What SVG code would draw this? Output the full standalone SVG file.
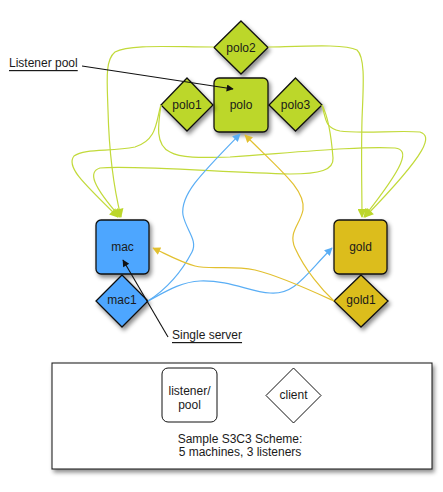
<svg xmlns="http://www.w3.org/2000/svg" width="443" height="492" viewBox="0 0 443 492">
<style>
text{font-family:"Liberation Sans",Arial,sans-serif;font-size:12px;fill:#1a1a1a;text-anchor:middle;dominant-baseline:central}
.node{stroke:#111;stroke-width:1.3}
.g{fill:#BCD72A}.b{fill:#4DA6FF}.y{fill:#DCBD1E}
.lg{fill:none;stroke:#C2DA3A;stroke-width:1.2}
.lb{fill:none;stroke:#5AAEF5;stroke-width:1.2}
.ly{fill:none;stroke:#E2C030;stroke-width:1.2}
.lk{fill:none;stroke:#111;stroke-width:1.1}
.lbl{text-anchor:start;text-decoration:underline}
</style>
<defs>
<filter id="sh" x="-30%" y="-30%" width="170%" height="170%"><feDropShadow dx="2" dy="3" stdDeviation="2" flood-color="#000" flood-opacity="0.45"/></filter>
<marker id="ag" viewBox="0 0 10 10" refX="9" refY="5" markerWidth="10" markerHeight="9" orient="auto" markerUnits="userSpaceOnUse"><path d="M0,0L10,5L0,10z" fill="#BCD72A"/></marker>
<marker id="ab" viewBox="0 0 10 10" refX="9" refY="5" markerWidth="9" markerHeight="8" orient="auto" markerUnits="userSpaceOnUse"><path d="M0,0L10,5L0,10z" fill="#5AAEF5"/></marker>
<marker id="ay" viewBox="0 0 10 10" refX="9" refY="5" markerWidth="9" markerHeight="8" orient="auto" markerUnits="userSpaceOnUse"><path d="M0,0L10,5L0,10z" fill="#E2C030"/></marker>
<marker id="ak" viewBox="0 0 10 10" refX="9" refY="5" markerWidth="9" markerHeight="7" orient="auto" markerUnits="userSpaceOnUse"><path d="M0,0L10,5L0,10z" fill="#111"/></marker>
</defs>
<g id="polo2"><path class="node g" filter="url(#sh)" d="M241,21 L268,47.5 L241,74 L214,47.5z"/><text x="241" y="47.5">polo2</text></g>
<g id="polo"><rect class="node g" filter="url(#sh)" x="214" y="78" width="54" height="54" rx="5"/><text x="241" y="105">polo</text></g>
<g id="polo1"><path class="node g" filter="url(#sh)" d="M187,78 L213,105 L187,131 L161,105z"/><text x="187" y="105">polo1</text></g>
<g id="polo3"><path class="node g" filter="url(#sh)" d="M295.5,78 L322,105 L295.5,131 L269,105z"/><text x="295.5" y="105">polo3</text></g>
<g id="mac"><rect class="node b" filter="url(#sh)" x="96" y="220" width="53" height="54" rx="5"/><text x="122.5" y="247">mac</text></g>
<g id="mac1"><path class="node b" filter="url(#sh)" d="M122,275 L148,301 L122,327 L96,301z"/><text x="122" y="300">mac1</text></g>
<g id="gold"><rect class="node y" filter="url(#sh)" x="334" y="220" width="53" height="54" rx="5"/><text x="360.5" y="247">gold</text></g>
<g id="gold1"><path class="node y" filter="url(#sh)" d="M361,275 L388,301 L361,327 L334,301z"/><text x="361" y="300">gold1</text></g>
<g id="listener-pool-label"><text class="lbl" x="9" y="63">Listener pool</text></g>
<g id="single-server-label"><text class="lbl" x="172" y="335">Single server</text></g>
<g id="legend">
<rect x="52" y="363" width="380" height="106" fill="#fff" stroke="#111" stroke-width="1" filter="url(#sh)"/>
<rect x="162" y="368" width="55" height="54" rx="6" fill="#fff" stroke="#111" stroke-width="1"/>
<text x="189.5" y="391">listener/</text><text x="189.5" y="405">pool</text>
<path d="M293.5,368 L321,395.5 L293.5,423 L266,395.5z" fill="#fff" stroke="#111" stroke-width="1"/>
<text x="293.5" y="395">client</text>
<text x="240" y="439">Sample S3C3 Scheme:</text>
<text x="240" y="452">5 machines, 3 listeners</text>
</g>
<g id="connectors">
<path class="lg" marker-end="url(#ag)" d="M214,47 C170,47 130,44 115,52 C105,60 107,80 108,110 C109,150 113,185 121,217"/>
<path class="lg" marker-end="url(#ag)" d="M161,105 C156,120 158,140 135,147 C110,152 85,148 74,156 C66,166 80,180 118,217"/>
<path class="lg" marker-end="url(#ag)" d="M322,105 C330,120 332,145 333,158 C334,170 320,174 290,174 C220,172 130,165 100,168 C88,172 92,185 120,217"/>
<path class="lg" marker-end="url(#ag)" d="M268,47 C310,46 345,44 357,50 C366,58 363,90 362,120 C361,160 362,190 362,217"/>
<path class="lg" marker-end="url(#ag)" d="M161,105 C158,125 155,145 170,152 C180,158 200,158 230,157 C300,152 360,146 395,148 C410,150 405,165 364,217"/>
<path class="lg" marker-end="url(#ag)" d="M322,105 C326,120 325,128 340,131 C360,134 400,130 420,132 C432,136 430,150 365,217"/>
<path class="lb" marker-end="url(#ab)" d="M148,301 C165,290 180,275 192,252 C198,240 186,230 183,215 C180,195 200,175 240,134"/>
<path class="lb" marker-end="url(#ab)" d="M148,301 C165,292 180,282 200,281 C230,280 250,292 270,293 C295,295 305,275 332,248"/>
<path class="ly" marker-end="url(#ay)" d="M334,301 C322,290 305,270 295,248 C288,232 300,225 303,210 C306,190 280,170 245,135"/>
<path class="ly" marker-end="url(#ay)" d="M334,301 C310,290 280,276 255,270 C230,265 210,270 195,266 C180,262 168,255 153,248"/>
<path class="lk" marker-end="url(#ak)" d="M82,66 L233,89"/>
<path class="lk" marker-end="url(#ak)" d="M168,337 L123,260"/>
</g>
</svg>
